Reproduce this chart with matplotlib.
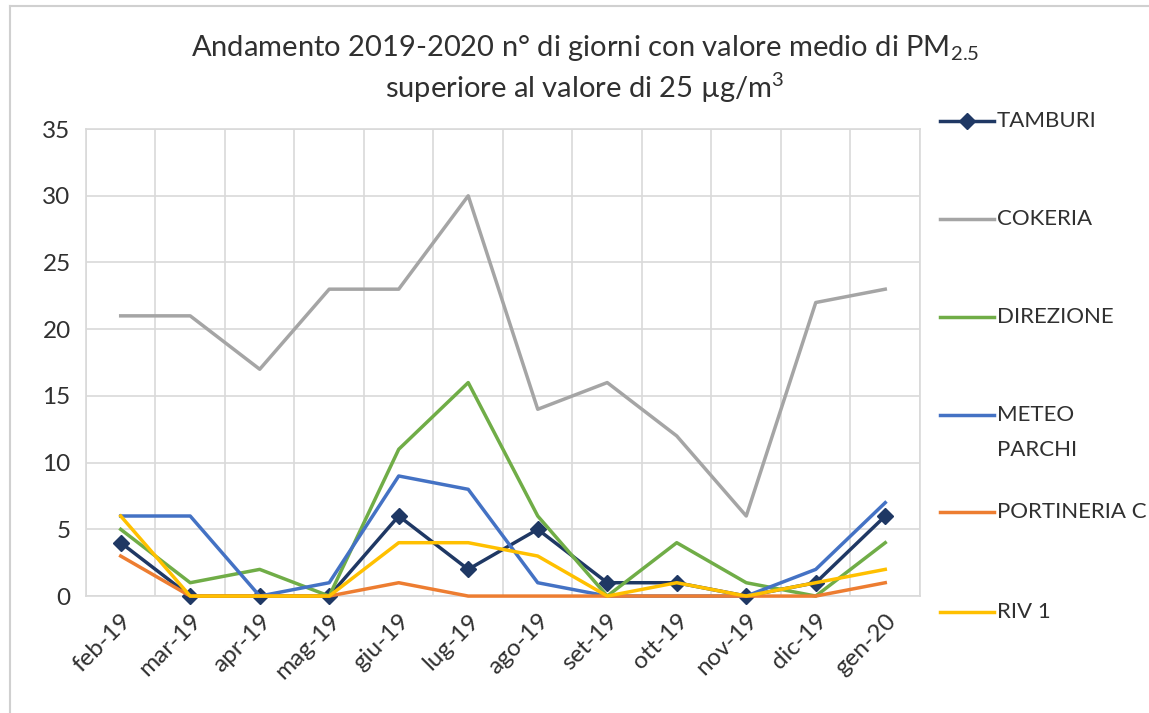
import matplotlib.pyplot as plt
from matplotlib.lines import Line2D
import numpy as np

plt.rcParams['font.family'] = ['Lato', 'DejaVu Sans']
plt.rcParams['mathtext.fontset'] = 'custom'
plt.rcParams['mathtext.rm'] = 'Lato'
plt.rcParams['mathtext.it'] = 'Lato'

mesi = ["feb-19", "mar-19", "apr-19", "mag-19", "giu-19", "lug-19",
        "ago-19", "set-19", "ott-19", "nov-19", "dic-19", "gen-20"]

tamburi = [4, 0, 0, 0, 6, 2, 5, 1, 1, 0, 1, 6]
cokeria = [21, 21, 17, 23, 23, 30, 14, 16, 12, 6, 22, 23]
direzione = [5, 1, 2, 0, 11, 16, 6, 0, 4, 1, 0, 4]
meteo_parchi = [6, 6, 0, 1, 9, 8, 1, 0, 0, 0, 2, 7]
portineria = [3, 0, 0, 0, 1, 0, 0, 0, 0, 0, 0, 1]
riv1 = [6, 0, 0, 0, 4, 4, 3, 0, 1, 0, 1, 2]

nomi = ["TAMBURI", "COKERIA", "DIREZIONE", "METEO\nPARCHI", "PORTINERIA C", "RIV 1"]
serie = [tamburi, cokeria, direzione, meteo_parchi, portineria, riv1]
colori = ["#1F3864", "#A5A5A5", "#70AD47", "#4472C4", "#ED7D31", "#FFC000"]
marker = ["D", None, None, None, None, None]
testo = "#303030"

fig = plt.figure(figsize=(11.49, 7.13), dpi=100)
ax = fig.add_axes([0.0748, 0.164, 0.7259, 0.655])

x = np.arange(len(mesi))
for s, c, m in zip(serie, colori, marker):
    ax.plot(x, s, color=c, lw=2.5, marker=m, markersize=8, zorder=3, clip_on=False)

ax.set_xlim(-0.5, len(mesi) - 0.5)
ax.set_ylim(0, 35)
ax.set_yticks(range(0, 36, 5))
ax.set_xticks(x)
ax.set_xticklabels(mesi, rotation=45, ha="right", rotation_mode="anchor")
ax.set_xticks(np.arange(-0.5, len(mesi), 1), minor=True)
ax.tick_params(axis="both", which="both", length=0, labelsize=17.5, colors=testo)
ax.tick_params(axis="x", pad=10)
ax.tick_params(axis="y", pad=11)
ax.grid(True, axis="y", color="#D9D9D9", lw=1.2)
ax.grid(True, axis="x", which="minor", color="#D9D9D9", lw=1.2)
for sp in ax.spines.values():
    sp.set_color("#D9D9D9")
    sp.set_linewidth(1.2)

fig.text(0.509, 0.932, "Andamento 2019-2020 n° di giorni con valore medio di PM$_{2.5}$",
         ha="center", va="center", fontsize=21, color=testo)
fig.text(0.509, 0.877, "superiore al valore di 25 µg/m$^3$",
         ha="center", va="center", fontsize=21, color=testo)

# legenda a destra (voci a distanza fissa, come in Excel)
ys = [121, 219, 317, 415, 512, 612]
for nome, c, m, yp in zip(nomi, colori, marker, ys):
    yf = 1 - yp / 713
    fig.add_artist(Line2D([940 / 1149, 994 / 1149], [yf, yf], color=c, lw=2.5,
                          transform=fig.transFigure))
    if m:
        fig.add_artist(Line2D([967 / 1149], [yf], color=c, marker=m, markersize=8,
                              transform=fig.transFigure))
    for i, riga in enumerate(nome.split("\n")):
        fig.text(997 / 1149, 1 - (yp + 35 * i) / 713, riga, ha="left", va="center",
                 fontsize=16, color=testo)

# cornice del grafico
fig.add_artist(Line2D([10 / 1149, 10 / 1149], [0, 1 - 6 / 713], color="#D0D0D0", lw=1.5,
                      transform=fig.transFigure))
fig.add_artist(Line2D([10 / 1149, 1], [1 - 6 / 713, 1 - 6 / 713], color="#D0D0D0", lw=1.5,
                      transform=fig.transFigure))

fig.savefig("out.png", dpi=100)
